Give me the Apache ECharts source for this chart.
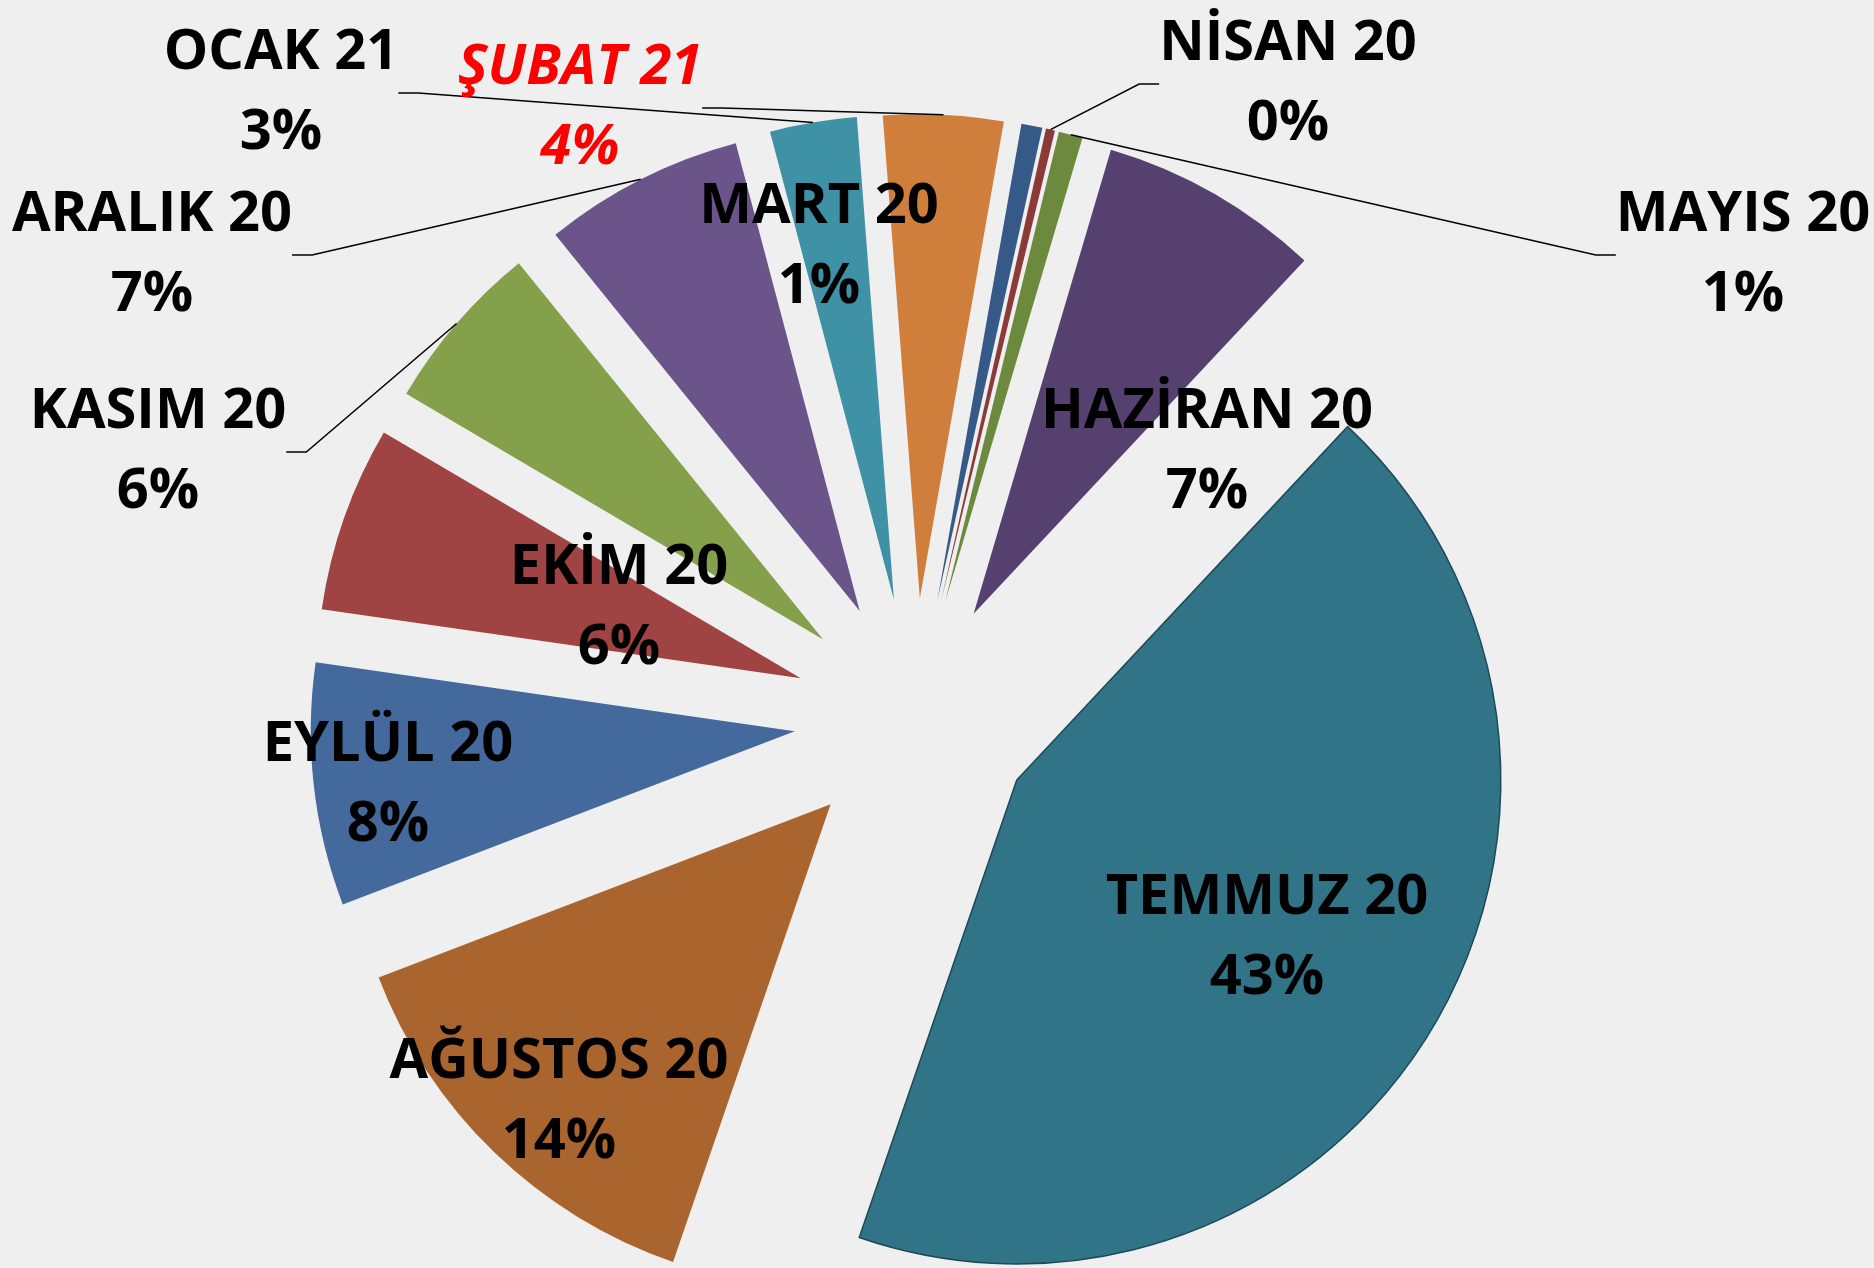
<!DOCTYPE html>
<html>
<head>
<meta charset="utf-8">
<script src="https://cdn.jsdelivr.net/npm/echarts@6/dist/echarts.min.js"></script>
<style>
html, body { margin: 0; padding: 0; background: #efefef; }
#chart { width: 1874px; height: 1268px; }
</style>
</head>
<body>
<div id="chart"></div>
<script>
// data, clockwise from the first slice
const months = ['MART 20', 'NİSAN 20', 'MAYIS 20', 'HAZİRAN 20', 'TEMMUZ 20', 'AĞUSTOS 20',
    'EYLÜL 20', 'EKİM 20', 'KASIM 20', 'ARALIK 20', 'OCAK 21', 'ŞUBAT 21'];
const shares = [0.7, 0.3, 0.8, 7.4, 43.3, 13.9, 8.1, 6.2, 5.7, 6.7, 2.9, 4.0];

// styling
const sliceColors = ['#355a88', '#8b3a38', '#6b8a3e', '#55406f', '#327487', '#aa652e',
    '#43699d', '#a04343', '#84a04b', '#6b548a', '#3f91a6', '#d07e3b'];
const labelSpots = [[819, 247], [1288, 84], [1743, 255], [1207, 452], [1267, 938], [559, 1102],
    [388, 785], [619, 608], [158, 452], [152, 255], [281, 93], [580, 108]];
const hasLeader = [false, true, true, false, false, false, false, false, true, true, true, true];

const pieCenter = [914, 718];
const pieRadius = 484;
const explode = 120;

const chart = echarts.init(document.getElementById('chart'));

const sliceData = months.map(function(name, i) {
    const style = { color: sliceColors[i] };
    if (name === 'TEMMUZ 20') {
        style.borderColor = '#1c4a57';
        style.borderWidth = 1.5;
    }
    return { name: name, value: shares[i], selected: true, itemStyle: style, select: { itemStyle: style } };
});

const labelData = months.map(function(name, i) {
    const item = {
        name: name,
        value: shares[i],
        label: { position: hasLeader[i] ? 'outside' : 'inside' },
        labelLine: { show: hasLeader[i] }
    };
    if (name === 'ŞUBAT 21') {
        item.label.color = '#ff0000';
        item.label.fontStyle = 'italic';
    }
    return item;
});

chart.setOption({
    animation: false,
    backgroundColor: '#efefef',
    series: [{
        type: 'pie',
        z: 2,
        center: pieCenter,
        radius: pieRadius,
        startAngle: 80,
        selectedMode: 'multiple',
        selectedOffset: explode,
        silent: true,
        label: { show: false },
        labelLine: { show: false },
        data: sliceData
    }, {
        // label carrier: same slices, reaching the exploded outer edge
        type: 'pie',
        z: 5,
        center: pieCenter,
        radius: pieRadius + explode,
        startAngle: 80,
        silent: true,
        avoidLabelOverlap: false,
        itemStyle: { color: 'rgba(0,0,0,0)' },
        data: labelData,
        label: {
            formatter: function(p) {
                return p.name + '\n' + Math.round(p.percent) + '%';
            },
            fontFamily: '"Open Sans", "Noto Sans", sans-serif',
            fontWeight: 'bold',
            fontSize: 56,
            lineHeight: 80,
            color: '#000',
            align: 'center'
        },
        labelLine: {
            length: 20,
            length2: 20,
            lineStyle: { color: '#000', width: 1.5 }
        },
        labelLayout: function(p) {
            const s = labelSpots[p.dataIndex];
            return { x: s[0], y: s[1], align: 'center', verticalAlign: 'middle' };
        }
    }]
});
</script>
</body>
</html>
